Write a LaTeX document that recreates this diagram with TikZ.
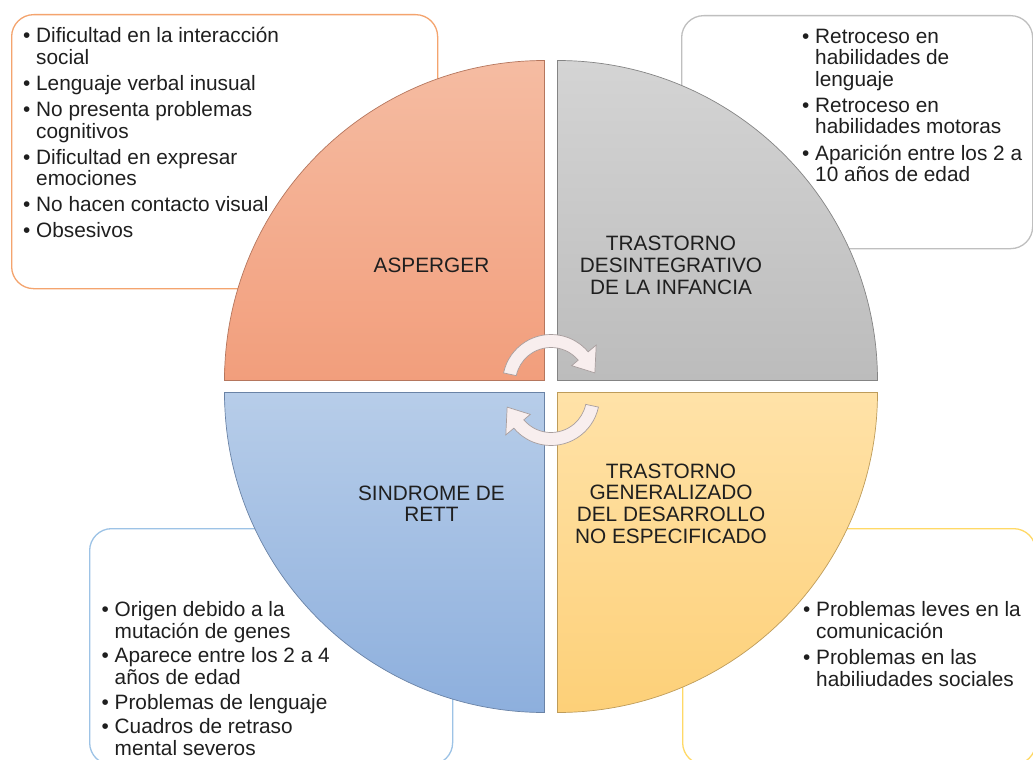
\documentclass[tikz,border=0pt]{standalone}
\usepackage{fontspec}
\setmainfont{Liberation Sans}
\definecolor{txt}{HTML}{1F1F1F}
\definecolor{orTop}{HTML}{F5BCA2}
\definecolor{orBot}{HTML}{F29E7C}
\definecolor{grTop}{HTML}{D4D4D4}
\definecolor{grBot}{HTML}{BCBCBC}
\definecolor{blTop}{HTML}{B7CDE9}
\definecolor{blBot}{HTML}{8DAFDD}
\definecolor{yeTop}{HTML}{FFE2A8}
\definecolor{yeBot}{HTML}{FDD078}
\definecolor{orLine}{HTML}{F4A46E}
\definecolor{grLine}{HTML}{BFBFBF}
\definecolor{blLine}{HTML}{9DC3E6}
\definecolor{yeLine}{HTML}{FFD966}
\definecolor{arFill}{HTML}{F8EEEE}
\definecolor{arLine}{HTML}{A89E9E}
\newcommand{\bul}{\makebox[13pt][l]{\textbullet}}
\newcommand{\ind}{\hspace*{13pt}}
\begin{document}
\begin{tikzpicture}[x=1pt,y=-1pt,
  infobox/.style={rounded corners=22pt, line width=1.3pt, fill=white, anchor=north west, inner sep=0pt},
  quarter/.style={line width=0.7pt},
  lbl/.style={text=txt, align=center, inner sep=0pt, anchor=base, font=\fontsize{20.8}{21.7}\selectfont},
  lst/.style={text=txt, inner sep=0pt, anchor=base west, font=\fontsize{20.8}{21.5}\selectfont},
  cyc/.style={fill=arFill, draw=arLine, line width=0.7pt}]
\useasboundingbox (0,0) rectangle (1033,760);
\clip (0,0) rectangle (1033,760);
\fill[white] (0,0) rectangle (1033,760);

% information boxes
\node[infobox, draw=orLine, minimum width=426pt, minimum height=274pt] (bA) at (11,14) {};
\node[infobox, draw=grLine, minimum width=351pt, minimum height=233pt] (bT) at (681,15) {};
\node[infobox, draw=blLine, minimum width=363pt, minimum height=236pt] (bR) at (89,528) {};
\node[infobox, draw=yeLine, minimum width=353pt, minimum height=236pt] (bG) at (682,528) {};

% quarters
\shade[quarter, top color=orTop, bottom color=orBot, draw=orBot!75!black]
  (544.5,380.5) -- (224.5,380.5) arc[start angle=180, end angle=270, radius=320] -- cycle;
\shade[quarter, top color=grTop, bottom color=grBot, draw=grBot!70!black]
  (557.5,380.5) -- (557.5,60.5) arc[start angle=270, end angle=360, radius=320] -- cycle;
\shade[quarter, top color=blTop, bottom color=blBot, draw=blBot!75!black]
  (544.5,392.5) -- (544.5,712.5) arc[start angle=90, end angle=180, radius=320] -- cycle;
\shade[quarter, top color=yeTop, bottom color=yeBot, draw=yeBot!75!black]
  (557.5,392.5) -- (877.5,392.5) arc[start angle=0, end angle=90, radius=320] -- cycle;

% quarter labels (anchored at the baseline of their last line)
\node[lbl] (qA) at (431.5,272.3) {ASPERGER};
\node[lbl] (qT) at (671,294) {TRASTORNO\\DESINTEGRATIVO\\DE LA INFANCIA};
\node[lbl] (qR) at (431.5,521.7) {SINDROME DE\\RETT};
\node[lbl] (qG) at (671,543.3) {TRASTORNO\\GENERALIZADO\\DEL DESARROLLO\\NO ESPECIFICADO};

% lists
\node[lst] (lA) at (23,43) {\begin{tabular}[t]{@{}l@{}}
\bul Dificultad en la interacción\\ \ind social\\[4.5pt]
\bul Lenguaje verbal inusual\\[4.5pt]
\bul No presenta problemas\\ \ind cognitivos\\[4.5pt]
\bul Dificultad en expresar\\ \ind emociones\\[4.5pt]
\bul No hacen contacto visual\\[4.5pt]
\bul Obsesivos
\end{tabular}};
\node[lst] (lT) at (802,43.3) {\begin{tabular}[t]{@{}l@{}}
\bul Retroceso en\\ \ind habilidades de\\ \ind lenguaje\\[4.5pt]
\bul Retroceso en\\ \ind habilidades motoras\\[4.5pt]
\bul Aparición entre los 2 a\\ \ind 10 años de edad
\end{tabular}};
\node[lst] (lR) at (101.5,616.7) {\begin{tabular}[t]{@{}l@{}}
\bul Origen debido a la\\ \ind mutación de genes\\[3pt]
\bul Aparece entre los 2 a 4\\ \ind años de edad\\[3pt]
\bul Problemas de lenguaje\\[3pt]
\bul Cuadros de retraso\\ \ind mental severos
\end{tabular}};
\node[lst] (lG) at (803,616.7) {\begin{tabular}[t]{@{}l@{}}
\bul Problemas leves en la\\ \ind comunicación\\[4.5pt]
\bul Problemas en las\\ \ind habiliudades sociales
\end{tabular}};

% cycle arrows
\begin{scope}[shift={(551,383)}]
\filldraw[cyc] (192:48.5) arc[start angle=192, end angle=320, radius=48.5]
  -- (320:59) -- (347:45) -- (320:27) -- (320:35.5)
  arc[start angle=320, end angle=192, radius=35.5] -- cycle;
\end{scope}
\begin{scope}[shift={(551,397)}, rotate=180]
\filldraw[cyc] (192:48.5) arc[start angle=192, end angle=320, radius=48.5]
  -- (320:59) -- (347:45) -- (320:27) -- (320:35.5)
  arc[start angle=320, end angle=192, radius=35.5] -- cycle;
\end{scope}
\end{tikzpicture}
\end{document}
